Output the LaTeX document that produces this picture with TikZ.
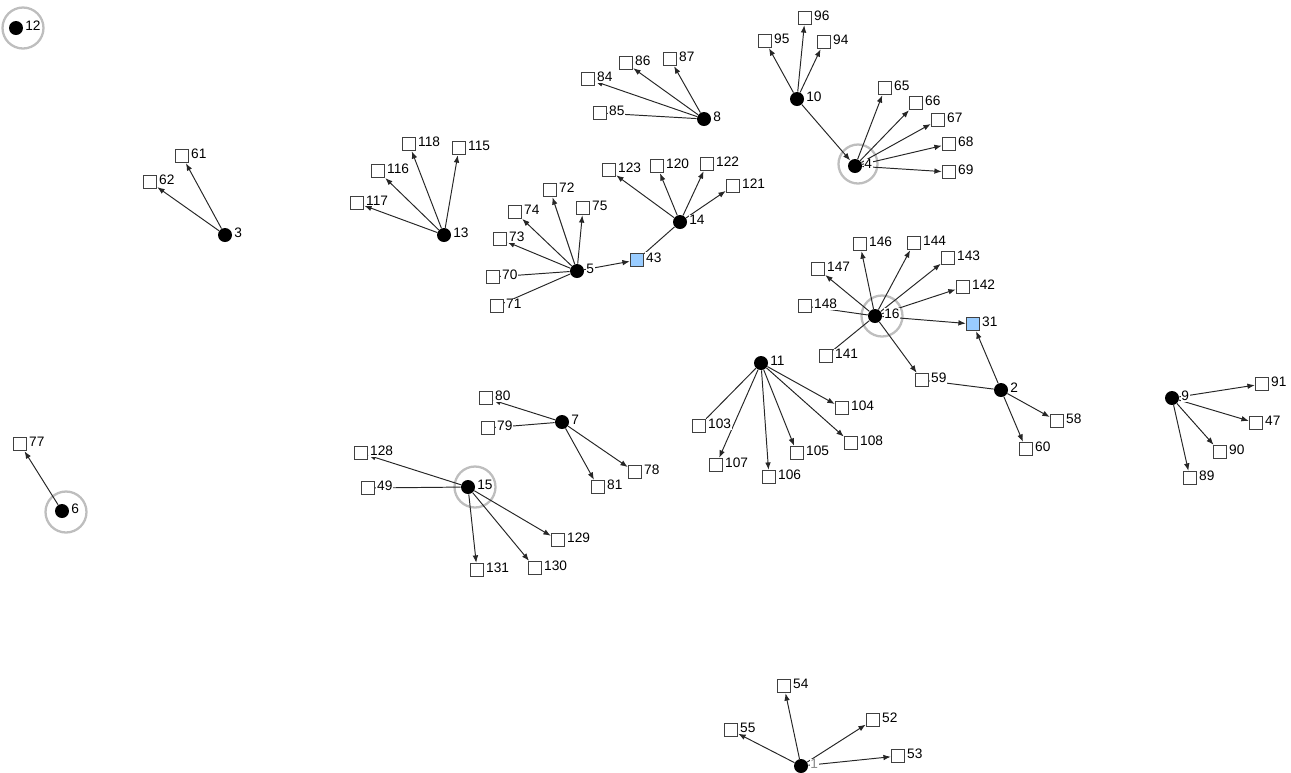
\documentclass[tikz,border=0pt]{standalone}
\usepackage{fontspec}
\setmainfont{Liberation Sans}
\usetikzlibrary{arrows.meta}
\pgfdeclarelayer{background}
\pgfsetlayers{background,main}
\definecolor{lblue}{RGB}{153,204,255}
\definecolor{ringgray}{RGB}{190,190,190}
\tikzset{
  hub/.style={circle, fill=black, minimum size=0.28cm, inner sep=0pt},
  leaf/.style={rectangle, draw=black!75, fill=white, minimum size=0.27cm, inner sep=0pt, line width=0.55pt},
  bleaf/.style={leaf, fill=lblue},
  lbl/.style={font=\fontsize{7.8pt}{9pt}\selectfont, fill=white, inner sep=0.4pt, label distance=0.5pt, yshift=0.04cm},
  glbl/.style={lbl, text=black!45},
  edge/.style={-{Latex[length=4.2pt,width=3.2pt]}, line width=0.55pt, draw=black!85},
  plain/.style={line width=0.55pt, draw=black!85},
  ring/.style={circle, draw=ringgray, line width=1.3pt, minimum size=0.82cm, inner sep=0pt}
}
\newcommand\lf[3]{\node[leaf,label={[lbl]right:#1}] (n#1) at (#2,#3) {};}
\newcommand\hb[3]{\node[hub,label={[lbl]right:#1}] (h#1) at (#2,#3) {};}
\begin{document}
\begin{tikzpicture}[x=0.02cm,y=-0.02cm]
\useasboundingbox (0,0) rectangle (1291,772);
% hubs
\hb{12}{16}{28}
\hb{3}{225}{235}
\hb{13}{444}{235}
\hb{5}{577}{271}
\hb{14}{680}{222}
\hb{8}{704}{119}
\hb{10}{797}{99}
\hb{4}{855}{166}
\hb{16}{875}{316}
\hb{2}{1001}{390}
\hb{11}{761}{363}
\hb{7}{562}{422}
\hb{15}{468}{487}
\hb{9}{1172}{398}
\node[hub,label={[glbl]right:1}] (h1) at (801,766) {};
\hb{6}{62}{511}
% leaves
\lf{61}{182}{156} \lf{62}{150}{182}
\lf{118}{409}{144} \lf{115}{459}{148} \lf{116}{378}{171} \lf{117}{357}{203}
\lf{72}{550}{190} \lf{75}{583}{208} \lf{74}{515}{212} \lf{73}{500}{239} \lf{70}{493}{277} \lf{71}{497}{306}
\node[bleaf,label={[lbl]right:43}] (n43) at (637,260) {};
\lf{123}{609}{170} \lf{120}{657}{166} \lf{122}{707}{164} \lf{121}{733}{186}
\lf{84}{588}{79} \lf{86}{626}{63} \lf{87}{670}{59} \lf{85}{600}{113}
\lf{95}{765}{41} \lf{96}{805}{18} \lf{94}{824}{42}
\lf{65}{885}{88} \lf{66}{916}{103} \lf{67}{938}{120} \lf{68}{949}{144} \lf{69}{949}{172}
\lf{146}{860}{244} \lf{144}{914}{243} \lf{143}{948}{258} \lf{142}{963}{287} \lf{147}{818}{269} \lf{148}{805}{306} \lf{141}{826}{356}
\node[bleaf,label={[lbl]right:31}] (n31) at (973,324) {};
\lf{59}{922}{380}
\lf{58}{1057}{421} \lf{60}{1026}{449}
\lf{103}{699}{426} \lf{107}{716}{465} \lf{106}{769}{477} \lf{105}{797}{453} \lf{108}{851}{443} \lf{104}{842}{408}
\lf{80}{486}{398} \lf{79}{488}{428} \lf{78}{635}{472} \lf{81}{598}{487}
\lf{128}{361}{453} \lf{49}{368}{488} \lf{129}{558}{540} \lf{130}{535}{568} \lf{131}{477}{570}
\lf{91}{1262}{384} \lf{47}{1256}{423} \lf{90}{1220}{452} \lf{89}{1190}{478}
\lf{54}{784}{686} \lf{55}{731}{730} \lf{52}{873}{720} \lf{53}{898}{756}
\lf{77}{20}{444}
\begin{pgfonlayer}{background}
% rings
\node[ring] (r12) at (23,28) {};
\node[ring] (r6) at (66,512) {};
\node[ring,minimum size=0.78cm] (r4) at (858,164) {};
\node[ring] (r16) at (882,316) {};
\node[ring] (r15) at (475,487) {};
% edges
\foreach \t in {61,62} \draw[edge] (h3) -- (n\t);
\foreach \t in {118,115,116,117} \draw[edge] (h13) -- (n\t);
\foreach \t in {72,75,74,73,43} \draw[edge] (h5) -- (n\t);
\foreach \t in {70,71} \draw[plain] (h5) -- (n\t);
\foreach \t in {123,120,122,121} \draw[edge] (h14) -- (n\t);
\draw[plain] (h14) -- (n43);
\foreach \t in {84,86,87} \draw[edge] (h8) -- (n\t);
\draw[plain] (h8) -- (n85);
\foreach \t in {95,96,94} \draw[edge] (h10) -- (n\t);
\draw[edge] (h10) -- (h4);
\foreach \t in {65,66,67,68,69} \draw[edge] (h4) -- (n\t);
\foreach \t in {146,144,143,142,147,31,59} \draw[edge] (h16) -- (n\t);
\foreach \t in {148,141} \draw[plain] (h16) -- (n\t);
\foreach \t in {31,58,60} \draw[edge] (h2) -- (n\t);
\draw[plain] (h2) -- (n59);
\foreach \t in {107,106,105,108,104} \draw[edge] (h11) -- (n\t);
\draw[plain] (h11) -- (n103);
\foreach \t in {80,78,81} \draw[edge] (h7) -- (n\t);
\draw[plain] (h7) -- (n79);
\foreach \t in {128,129,130,131} \draw[edge] (h15) -- (n\t);
\draw[plain] (h15) -- (n49);
\foreach \t in {91,47,90,89} \draw[edge] (h9) -- (n\t);
\foreach \t in {54,55,52,53} \draw[edge] (h1) -- (n\t);
\draw[edge] (h6) -- (n77);
\end{pgfonlayer}
\end{tikzpicture}
\end{document}
